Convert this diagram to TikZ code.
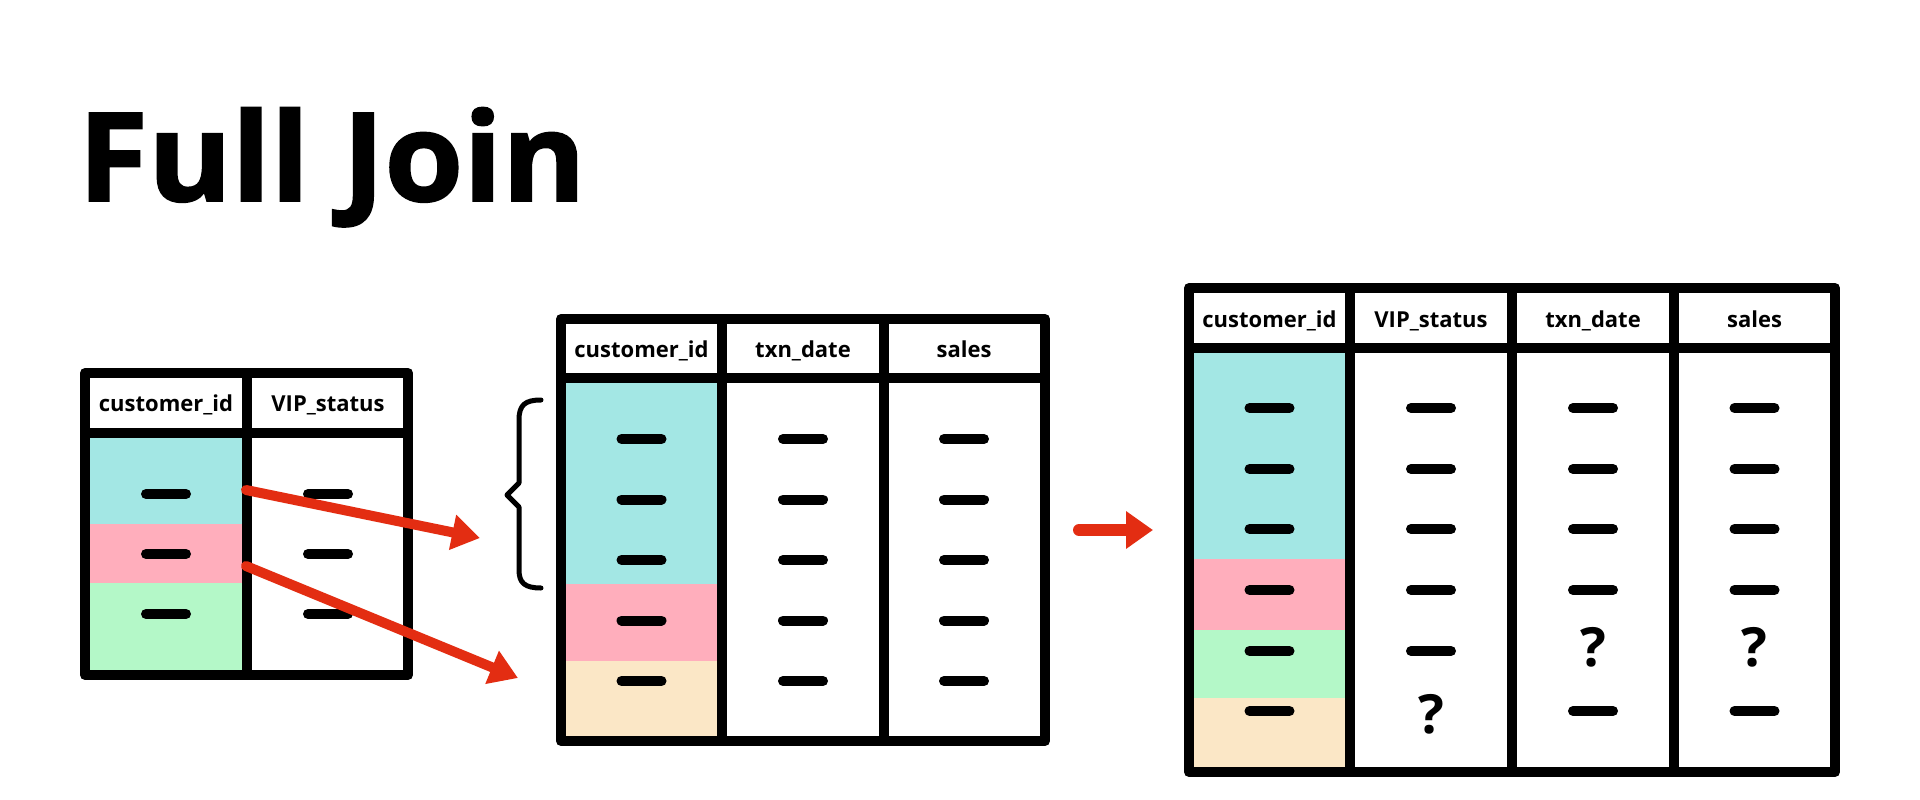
\documentclass[tikz,border=0pt]{standalone}
\usepackage{fontspec}
\setmainfont{Open Sans}
\newfontfamily\titlefont{Open Sans Bold}[FakeBold=1.6, FakeStretch=1.035]
\usetikzlibrary{arrows.meta}
\definecolor{cy}{HTML}{A3E7E4}
\definecolor{pk}{HTML}{FFAEBC}
\definecolor{gn}{HTML}{B4F8C8}
\definecolor{pc}{HTML}{FBE7C6}
\definecolor{rd}{HTML}{E32D12}
\begin{document}
\begin{tikzpicture}[x=1pt,y=-1pt,
 grid/.style={line width=10pt, line join=round},
 dashmark/.style={line width=10pt, line cap=round},
 hdr/.style={font=\fontsize{22}{22}\selectfont\bfseries, inner sep=0pt, anchor=base},
 qm/.style={font=\fontsize{54}{54}\selectfont\bfseries, inner sep=0pt},
 redarrow/.style={draw=rd, line width=10pt, line cap=round, -{Triangle[length=28pt,width=34pt]}},
]
\useasboundingbox[fill=white] (0,0) rectangle (1920,800);

% title
\node[font=\fontsize{123}{123}\titlefont, inner sep=0pt, anchor=base west] (title) at (78,201) {Full Join};

% ---------- table 1 ----------
\fill[cy] (85,433) rectangle (247,524);
\fill[pk] (85,524) rectangle (247,583);
\fill[gn] (85,583) rectangle (247,675);
\draw[grid] (85,373) rectangle (408,675);
\draw[grid] (85,433) -- (408,433);
\draw[grid] (247,373) -- (247,675);
\node[hdr] (t1h1) at (166,411.7) {customer\_id};
\node[hdr] (t1h2) at (328,411.7) {VIP\_status};
\foreach \y in {494,554,614} {
  \draw[dashmark] (146,\y) -- (186,\y);
  \draw[dashmark] (308,\y) -- (348,\y);
}

% ---------- table 2 ----------
\fill[cy] (561,378) rectangle (722,584);
\fill[pk] (561,584) rectangle (722,661);
\fill[pc] (561,661) rectangle (722,741);
\draw[grid] (561,319) rectangle (1045,741);
\draw[grid] (561,378) -- (1045,378);
\draw[grid] (722,319) -- (722,741);
\draw[grid] (883.5,319) -- (883.5,741);
\node[hdr] (t2h1) at (641.5,357) {customer\_id};
\node[hdr] (t2h2) at (803,357) {txn\_date};
\node[hdr] (t2h3) at (964,357) {sales};
\foreach \y in {439,499.5,560,620.5,681} {
  \foreach \x in {641.5,803,964} {
    \draw[dashmark] (\x-20,\y) -- (\x+20,\y);
  }
}

% brace
\draw[line width=5pt, line cap=round, line join=round]
  (541,400) .. controls (525,400) and (519,405) .. (519,420) -- (519,483)
  -- (507,495) -- (519,507) -- (519,570)
  .. controls (519,583) and (525,588) .. (541,588);

% ---------- table 3 ----------
\fill[cy] (1189,348) rectangle (1350,559);
\fill[pk] (1189,559) rectangle (1350,630);
\fill[gn] (1189,630) rectangle (1350,698);
\fill[pc] (1189,698) rectangle (1350,772);
\draw[grid] (1189,288) rectangle (1835,772);
\draw[grid] (1189,348) -- (1835,348);
\draw[grid] (1350,288) -- (1350,772);
\draw[grid] (1512,288) -- (1512,772);
\draw[grid] (1674,288) -- (1674,772);
\node[hdr] (t3h1) at (1269.5,327) {customer\_id};
\node[hdr] (t3h2) at (1431,327) {VIP\_status};
\node[hdr] (t3h3) at (1593,327) {txn\_date};
\node[hdr] (t3h4) at (1754.5,327) {sales};
\foreach \y in {408,469,529,590} {
  \foreach \x in {1269.5,1431,1593,1754.5} {
    \draw[dashmark] (\x-20,\y) -- (\x+20,\y);
  }
}
\foreach \x in {1269.5,1431} {\draw[dashmark] (\x-20,651) -- (\x+20,651);}
\foreach \x in {1269.5,1593,1754.5} {\draw[dashmark] (\x-20,711) -- (\x+20,711);}
\node[qm] (q1) at (1431,714) {?};
\node[qm] (q2) at (1593,647) {?};
\node[qm] (q3) at (1754.5,647) {?};

% ---------- arrows ----------
\coordinate (a1s) at (246,490);
\coordinate (a1e) at (480,538);
\coordinate (a2s) at (246,566);
\coordinate (a2e) at (518,678);
\coordinate (a3s) at (1079,530);
\coordinate (a3e) at (1153,530);
\draw[redarrow] (a1s) -- (a1e);
\draw[redarrow] (a2s) -- (a2e);
\draw[draw=rd, line width=12pt, line cap=round, -{Triangle[length=27pt,width=36pt]}] (a3s) -- (a3e);
\end{tikzpicture}
\end{document}
